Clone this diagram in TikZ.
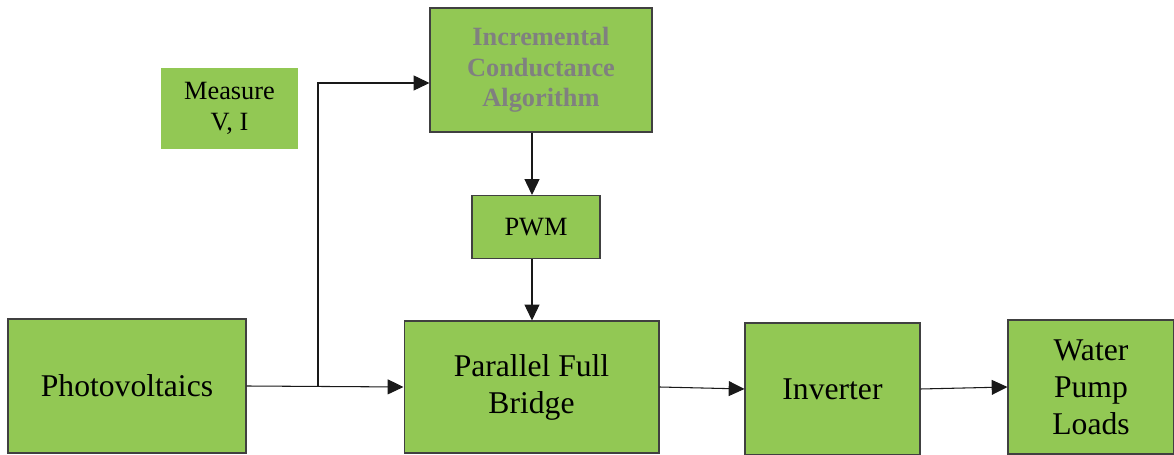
\documentclass[tikz,border=0pt]{standalone}
\usepackage{fontspec}
\setmainfont{Liberation Serif}
\usetikzlibrary{arrows.meta,positioning,calc}
\definecolor{boxgreen}{RGB}{146,200,84}
\definecolor{algogray}{RGB}{128,128,128}

\begin{document}
\begin{tikzpicture}[x=0.02cm, y=-0.02cm,
    block/.style={draw=black!75, line width=0.6pt, fill=boxgreen, inner sep=0pt, align=center, font=\fontsize{18}{21}\selectfont},
    small/.style={block, font=\fontsize{15}{17.5}\selectfont},
    arr/.style={-{Triangle[length=9pt, width=8.5pt]}, line width=0.6pt, black!90}
]
\useasboundingbox (0,0) rectangle (1174,455);

\node[block, minimum width=4.76cm, minimum height=2.68cm] (pv) at (127,386) {Photovoltaics};
\node[block, minimum width=5.10cm, minimum height=2.64cm] (pfb) at (531.5,387) {Parallel Full\\Bridge};
\node[block, minimum width=3.50cm, minimum height=2.64cm] (inv) at (832.5,389) {Inverter};
\node[block, minimum width=3.32cm, minimum height=2.68cm] (load) at (1091,387) {Water\\Pump\\Loads};
\node[small, minimum width=4.44cm, minimum height=2.48cm, text=algogray, font=\fontsize{15}{17.5}\selectfont\bfseries] (ica) at (541,70) {Incremental\\Conductance\\Algorithm};
\node[small, minimum width=2.56cm, minimum height=1.26cm] (pwm) at (536,227) {PWM};
\node[small, draw=none, minimum width=2.74cm, minimum height=1.62cm] (meas) at (229.5,108.5) {Measure\\V, I};

\coordinate (br) at (318,386);
\coordinate (icain) at ($(ica.west)+(0,13)$);

\draw[arr] (pv.east) -- (pfb.west);
\draw[arr] (br) |- (icain);
\draw[arr] (ica.south -| 532,0) -- (pwm.north -| 532,0);
\draw[arr] (pwm.south -| 532,0) -- (pfb.north -| 532,0);
\draw[arr] (pfb.east) -- (inv.west);
\draw[arr] (inv.east) -- (load.west);
\end{tikzpicture}
\end{document}
